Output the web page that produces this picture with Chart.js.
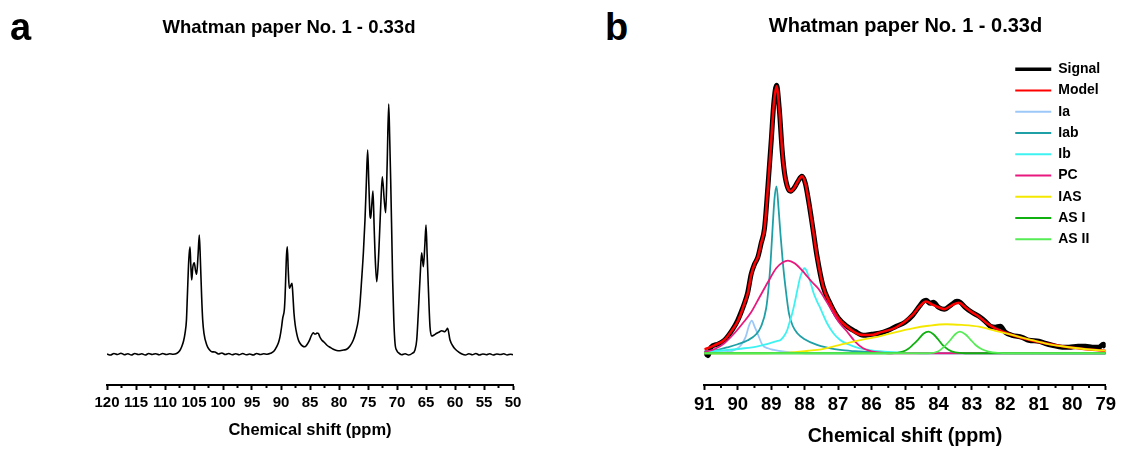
<!DOCTYPE html>
<html lang="en">
<head>
<meta charset="UTF-8">
<title>Whatman paper No. 1 - 0.33d</title>
<script src="https://cdn.jsdelivr.net/npm/chart.js@4.4.1/dist/chart.umd.min.js"></script>
<style>
  body { margin: 0; background: #fff; }
  .wrap { position: relative; width: 1121px; height: 450px; }
  .wrap canvas { position: absolute; top: 0; }
  .tag { position: absolute; top: 8px; font: bold 38px/38px "Liberation Sans", Arial, sans-serif; color: #000; }
</style>
</head>
<body>
<div class="wrap">
  <canvas id="chartA" width="578" height="450" style="left:0"></canvas>
  <canvas id="chartB" width="430" height="450" style="left:690px"></canvas>
  <div class="tag" style="left:10px">a</div>
  <div class="tag" style="left:605px">b</div>
</div>
<script>
// panel a: full spectrum (ppm, intensity above baseline)
const leftShift = [120, 119.4, 118.8, 118.2, 117.6, 117, 116.4, 115.8, 115.2, 114.6, 114, 113.4, 112.8, 112.2, 111.6, 111, 110.4, 109.8, 109.2, 108.6, 108,
  107.5, 107.12, 106.8, 106.55, 106.3, 106.15, 105.9, 105.69, 105.55, 105.4, 105.2, 104.95, 104.75, 104.54, 104.3, 104.09, 103.9, 103.68, 103.5, 103.28, 102.8, 102.3, 101.95,
  101.4, 100.8, 100.2, 99.6, 99, 98.4, 97.8, 97.2, 96.6, 96, 95.4, 94.8, 94.2, 93.6, 93, 92.4, 91.8,
  91.2, 90.74, 90.4, 90.17, 89.9, 89.71, 89.43, 89.3, 89.2, 89.05, 88.91, 88.75, 88.57, 88.35, 88.1, 87.95, 87.76, 87.55, 87.3, 87, 86.72, 86.3,
  85.86, 85.5, 85.12, 84.8, 84.43, 84.2, 84, 83.8, 83.57, 83.3, 82.98, 82.6, 82.12, 81.5, 80.98, 80.4, 79.83, 79.2, 78.68,
  78.1, 77.53, 77.1, 76.67, 76.4, 76.1, 75.8, 75.52, 75.3, 75.06, 74.85, 74.66, 74.54, 74.35, 74.14, 73.95, 73.79, 73.5, 73.25, 73.05, 72.8, 72.53, 72.2, 71.95, 71.7, 71.43, 71.25, 71.09, 70.9, 70.75, 70.55, 70.34, 70, 69.77,
  69.2, 68.6, 68, 67.4, 66.9, 66.6, 66.33, 66, 65.75, 65.45, 65.2, 65, 64.8, 64.6, 64.31, 64.02, 63.6, 63.16, 62.7, 62.3, 61.73, 61.5, 61.27, 60.86, 60.29, 59.8, 59.43,
  58.8, 58.2, 57.6, 57, 56.4, 55.8, 55.2, 54.6, 54, 53.4, 52.8, 52.2, 51.6, 51, 50.4, 50];
const leftInt = [1, 0, 1.5, 0.5, 1.8, 0.3, 1.2, 0, 1.5, 0.5, 1.2, 0, 1.5, 0.5, 1.3, 0.2, 1.5, 0.5, 1.2, 0.8, 1.5,
  4, 8.3, 14, 21.7, 35, 58, 95, 108.3, 90, 75, 88, 92.3, 85, 80.7, 100, 120, 95, 58, 35, 21.7, 10, 5, 3.3,
  3, 1, 2, 0.5, 1.5, 0.2, 1.3, 0.3, 1.5, 0.2, 1, 0, 1.5, 0.5, 1.2, 0.8, 1.7,
  4, 8.3, 13, 18.3, 28, 36.7, 45, 58, 75, 100, 108.3, 85, 66.7, 69, 71.7, 60, 41.7, 30, 21.7, 15, 11.7, 9,
  8.3, 10.5, 14.3, 19, 22.3, 21, 21, 22, 21.7, 18, 15, 13, 10, 7.5, 5.7, 4.5, 4.3, 5, 5.7,
  9, 15, 23, 35, 50, 75, 102, 135, 170, 205, 170, 140, 136.7, 150, 164, 130, 101.7, 73.3, 90, 115, 150, 178.3, 155, 142.3, 190, 251, 215, 175, 120, 75, 35, 11.7, 4, 2.3,
  0.3, 1.2, 0, 1.5, 5, 15, 41.7, 80, 102.3, 88.3, 110, 130, 100, 68.3, 28.3, 19, 20, 21.7, 23, 24.3, 23.3, 25, 26.7, 15, 8.3, 5, 3.3,
  1, 0, 1.2, 0.3, 1.5, 0, 1, 0.3, 1.2, 0, 1, 0.5, 1.2, 0, 0.8, 0.3];

// panel b: deconvolution of the C4 region
const signalShift = [91, 90.89, 90.8, 90.6, 90.4, 90.15, 90, 89.9, 89.8, 89.7, 89.6, 89.5, 89.4, 89.3, 89.2, 89.1, 89, 88.92, 88.84, 88.76, 88.67, 88.6, 88.5, 88.42, 88.3, 88.2, 88.08, 87.98, 87.88, 87.75, 87.63, 87.45, 87.24, 86.99, 86.74, 86.5, 86.25, 86, 85.76, 85.5, 85.26, 85, 84.77, 84.57, 84.45, 84.37, 84.25, 84.15, 84, 83.83, 83.6, 83.45, 83.35, 83.2, 83, 82.79, 82.6, 82.45, 82.3, 82.15, 82, 81.8, 81.5, 81.3, 81, 80.82, 80.6, 80.3, 80.1, 79.83, 79.6, 79.4, 79.2, 79.07, 79];
const signalInt = [2, -2.5, 6, 9, 13, 24, 33, 41, 50, 61, 79, 89, 96, 110, 125, 166, 212, 251, 268, 245, 202, 180, 165, 162, 166, 172, 177, 170, 152, 124, 97, 67, 50, 35, 27, 22, 18, 19, 20, 23, 27, 31, 38, 47, 52, 53, 50, 51, 46, 44, 49, 52, 51, 46, 41, 37, 32, 27, 26, 27, 21, 18, 16, 13, 12, 10, 8, 6, 6, 7, 7, 6, 6, 9, 6];
const modelShift = [91, 90.9, 90.7, 90.4, 90.15, 90, 89.9, 89.8, 89.7, 89.6, 89.5, 89.4, 89.3, 89.2, 89.1, 89, 88.92, 88.84, 88.76, 88.67, 88.6, 88.5, 88.42, 88.3, 88.2, 88.08, 87.98, 87.88, 87.75, 87.63, 87.45, 87.24, 86.99, 86.74, 86.5, 86.25, 85.95, 85.76, 85.26, 84.77, 84.57, 84.37, 84.2, 84, 83.83, 83.6, 83.39, 83.2, 83, 82.79, 82.55, 82.3, 81.8, 81.3, 80.82, 80.3, 79.83, 79.4, 79];
const modelInt = [4, 5, 8, 13.3, 24, 32, 40, 50, 60, 78, 89, 96, 110, 125, 165, 212, 250, 267, 245, 202, 180, 165, 162, 166, 172, 177, 170, 152, 124, 97, 67, 50, 35, 26.7, 21, 18.3, 18.5, 20.6, 26, 38.3, 46.6, 51.7, 49, 46, 44, 48, 50.6, 46, 41, 36.6, 30, 25, 18.3, 13.5, 10, 7, 5, 3.5, 2.6];
const iaShift = [91, 90.5, 90.2, 90, 89.9, 89.76, 89.67, 89.58, 89.5, 89.41, 89.26, 89.1, 88.92, 88.6, 88.2, 87.8, 79];
const iaInt = [0.5, 1, 2, 5, 8.3, 16.6, 27, 32.6, 27, 20, 8.3, 5, 3.3, 1.5, 0.5, 0, 0];
const iabShift = [91, 90.6, 90.3, 90, 89.7, 89.45, 89.3, 89.15, 89.08, 89.02, 88.95, 88.9, 88.84, 88.78, 88.72, 88.65, 88.58, 88.47, 88.35, 88.22, 88, 87.63, 87.3, 86.94, 86.5, 86, 85, 79];
const iabInt = [1.7, 3.5, 6, 9, 13, 19, 27, 45, 65, 90, 130, 155, 167, 145, 118, 90, 68, 40, 27, 20, 14, 8.3, 5.5, 3.3, 2, 1, 0.3, 0];
const ibShift = [91, 90.4, 89.8, 89.4, 89.1, 88.85, 88.72, 88.6, 88.52, 88.45, 88.37, 88.3, 88.22, 88.13, 88.05, 88.01, 87.95, 87.88, 87.8, 87.73, 87.63, 87.53, 87.33, 87.14, 86.94, 86.7, 86.4, 86.1, 85.7, 85.2, 84.5, 79];
const ibInt = [1.5, 3, 5, 7, 9.5, 12, 13.3, 18, 23.3, 31, 40, 50, 63, 76.6, 83, 85, 83, 76.6, 68, 60, 52, 45, 30, 20, 13.3, 9, 5.5, 3.5, 1.8, 0.8, 0, 0];
const pcShift = [91, 90.7, 90.4, 90.1, 89.85, 89.6, 89.35, 89.1, 88.85, 88.65, 88.5, 88.3, 88, 87.8, 87.6, 87.35, 87.14, 86.95, 86.74, 86.5, 86.25, 86, 85.7, 85.2, 79];
const pcInt = [1.5, 4, 10, 20, 30, 41, 56, 71, 85, 91, 92.7, 90, 80, 72, 65, 52, 40, 30, 22, 12, 5, 2, 0.5, 0, 0];
const iasShift = [91, 89.5, 88.5, 87.9, 87.5, 87, 86.74, 86.3, 85.8, 85.3, 84.77, 84.3, 83.78, 83.3, 82.79, 82.3, 81.8, 81.3, 80.82, 80.3, 79.83, 79.4, 79];
const iasInt = [0, 0, 0.7, 2.5, 4, 8, 10, 13.5, 16.6, 21, 25, 27.5, 29, 28.3, 26.6, 22.5, 18.3, 14, 10, 7, 5, 3.5, 2.6];
const as1Shift = [91, 85.4, 85.07, 84.9, 84.77, 84.6, 84.45, 84.3, 84.15, 84, 83.88, 83.7, 83.5, 83.2, 79];
const as1Int = [0, 0, 1.6, 4.5, 8.3, 14, 19.5, 21.6, 19, 13.5, 8.3, 3.5, 0.8, 0, 0];
const as2Shift = [91, 84.3, 84, 83.83, 83.65, 83.5, 83.36, 83.2, 83.05, 82.89, 82.7, 82.5, 82.2, 81.9, 79];
const as2Int = [0, 0, 2, 6.6, 13, 19, 21.6, 19, 14, 8.3, 4, 1.6, 0.3, 0, 0];

const pts = (xs, ys) => xs.map((x, i) => ({ x: x, y: ys[i] }));

Chart.defaults.font.family = '"Liberation Sans", Arial, sans-serif';
Chart.defaults.font.weight = 'bold';
Chart.defaults.color = '#000';

// short ticks half way between the labelled ones
const minorTicks = {
  id: 'minorTicks',
  afterDraw(chart) {
    const sx = chart.scales.x;
    const ctx = chart.ctx;
    const vals = sx.ticks.map(t => t.value);
    ctx.save();
    ctx.strokeStyle = '#000';
    ctx.lineWidth = 2;
    for (let i = 0; i < vals.length - 1; i++) {
      const px = sx.getPixelForValue((vals[i] + vals[i + 1]) / 2);
      ctx.beginPath();
      ctx.moveTo(px, sx.top);
      ctx.lineTo(px, sx.top + 3);
      ctx.stroke();
    }
    ctx.restore();
  }
};

// put the legend inside the plot, top right
const legendSpot = {
  id: 'legendSpot',
  afterLayout(chart) {
    const lg = chart.legend;
    if (!lg) return;
    lg.left = 318;
    lg.top = 55;
    lg.right = lg.left + lg.width;
    lg.bottom = lg.top + lg.height;
  }
};

function xAxis(min, max, step, tickSize, pad, titleSize, titlePad) {
  return {
    type: 'linear', reverse: true, min: min, max: max,
    ticks: { stepSize: step, autoSkip: false, maxRotation: 0, minRotation: 0, padding: pad, font: { size: tickSize } },
    grid: { drawOnChartArea: false, tickLength: 5, tickWidth: 2, tickColor: '#000' },
    border: { color: '#000', width: 2 },
    title: { display: true, text: 'Chemical shift (ppm)', font: { size: titleSize }, padding: titlePad }
  };
}

const hidden = w => ({ ticks: { display: false }, grid: { display: false }, border: { display: false }, afterFit: s => { s.width = w; } });

const yA = hidden(107);
yA.min = -30;
yA.max = 305;
const yA2 = hidden(65);
yA2.position = 'right';

new Chart(document.getElementById('chartA'), {
  type: 'line',
  data: {
    datasets: [{
      label: 'Spectrum',
      data: pts(leftShift, leftInt),
      borderColor: '#000',
      borderWidth: 1.6,
      pointRadius: 0,
      fill: false,
      cubicInterpolationMode: 'monotone'
    }]
  },
  options: {
    responsive: false,
    animation: false,
    events: [],
    plugins: {
      legend: { display: false },
      tooltip: { enabled: false },
      title: { display: true, text: 'Whatman paper No. 1 - 0.33d', font: { size: 18.5 }, padding: { top: 16.4, bottom: 11.4 } }
    },
    scales: {
      x: xAxis(50, 120, 5, 15, 3.5, 16.5, { top: 5.1, bottom: 10.1 }),
      y: yA,
      y2: yA2
    }
  },
  plugins: [minorTicks]
});

function line(label, xs, ys, color, width, order) {
  return {
    label: label, data: pts(xs, ys), borderColor: color, backgroundColor: color,
    borderWidth: width, order: order, pointRadius: 0, fill: false, cubicInterpolationMode: 'monotone'
  };
}

new Chart(document.getElementById('chartB'), {
  type: 'line',
  data: {
    datasets: [
      line('Signal', signalShift, signalInt, '#000000', 5, 8),
      line('Model', modelShift, modelInt, '#ff0000', 2.5, 7),
      line('Ia', iaShift, iaInt, '#9cc8f8', 1.8, 6),
      line('Iab', iabShift, iabInt, '#1fa0a6', 1.8, 5),
      line('Ib', ibShift, ibInt, '#3ef2f2', 1.8, 4),
      line('PC', pcShift, pcInt, '#e8187e', 1.8, 3),
      line('IAS', iasShift, iasInt, '#f4e800', 1.8, 2),
      line('AS I', as1Shift, as1Int, '#10b010', 1.8, 1),
      line('AS II', as2Shift, as2Int, '#55ec55', 1.8, 0)
    ]
  },
  options: {
    responsive: false,
    animation: false,
    events: [],
    layout: { padding: { left: 13, right: 12 } },
    plugins: {
      tooltip: { enabled: false },
      title: { display: true, text: 'Whatman paper No. 1 - 0.33d', font: { size: 20 }, padding: { top: 14.4, bottom: 11.6 } },
      legend: {
        position: 'chartArea',
        align: 'start',
        labels: {
          usePointStyle: true,
          pointStyle: 'line',
          pointStyleWidth: 36,
          padding: 7.25,
          font: { size: 14 },
          generateLabels: chart => chart.data.datasets.map((ds, i) => ({
            text: ds.label,
            fillStyle: ds.borderColor,
            strokeStyle: ds.borderColor,
            lineWidth: i === 0 ? 3.5 : 2,
            pointStyle: 'line',
            hidden: false,
            fontColor: '#000',
            datasetIndex: i
          }))
        }
      }
    },
    scales: {
      x: xAxis(79, 91, 1, 18.5, 4, 19.7, { top: 5, bottom: 1.2 }),
      y: { display: false, min: -31.7, max: 303.3 }
    }
  },
  plugins: [minorTicks, legendSpot]
});
</script>
</body>
</html>
